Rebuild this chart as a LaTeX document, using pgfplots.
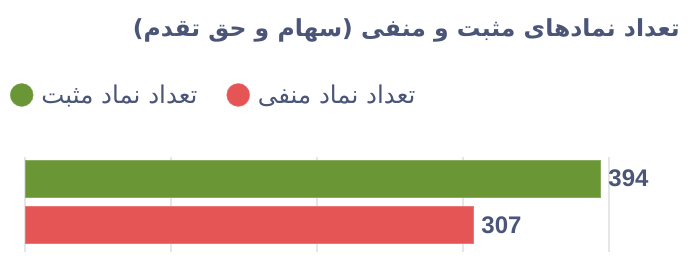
\documentclass[border=0pt]{standalone}
\usepackage{pgfplots}
\pgfplotsset{compat=1.18}
\usepackage{fontspec}
\setmainfont{Liberation Sans}
\newfontfamily\arabicfont[Script=Arabic]{DejaVu Sans}
\TeXXeTstate=1
\definecolor{posgreen}{HTML}{6A9636}
\definecolor{negred}{HTML}{E65555}
\definecolor{slate}{HTML}{4A5578}
\definecolor{gridgray}{HTML}{E6E6E6}
\begin{document}
\begin{tikzpicture}[x=1pt,y=1pt]
\useasboundingbox (0,0) rectangle (692,280);
\begin{axis}[
  at={(25pt,28pt)}, anchor=south west,
  scale only axis, width=584pt, height=95pt,
  xmin=0, xmax=400, ymin=-0.581, ymax=1.462,
  xbar, bar width=37pt, bar shift=0pt,
  xtick={0,100,200,300,400}, xticklabels={},
  ytick=\empty,
  xmajorgrids, grid style={draw=gridgray, line width=1.3pt},
  axis line style={draw=none}, tick style={draw=none},
  clip=false,
  /pgf/number format/assume math mode=true,
  nodes near coords={\pgfmathprintnumber{\pgfplotspointmeta}},
  every node near coord/.append style={font=\fontsize{24}{26}\selectfont\bfseries, text=slate, anchor=west, inner sep=0pt, xshift=8pt},
  legend columns=2,
  legend style={at={(axis description cs:-0.026,1.653)}, anchor=west, draw=none, fill=none,
    font=\arabicfont\fontsize{24.5}{27}\selectfont, text=slate, inner sep=0pt,
    /tikz/every odd column/.append style={column sep=6pt},
    /tikz/every even column/.append style={column sep=27pt}},
  legend image code/.code={\fill[#1] (0pt,0pt) circle (11.5pt);},
  legend cell align=left,
]
\addplot[fill=posgreen, draw=posgreen!80!white] coordinates {(394,1)};
\addlegendentry{\beginR تعداد نماد مثبت\endR}
\addplot[fill=negred, draw=negred!80!white] coordinates {(307,0)};
\addlegendentry{\beginR تعداد نماد منفی\endR}
\end{axis}
\node[anchor=north east, inner sep=0pt, text=slate, font=\arabicfont\bfseries\fontsize{23.5}{28}\selectfont] at (680,262) {\beginR تعداد نمادهای مثبت و منفی (سهام و حق تقدم)\endR};
\end{tikzpicture}
\end{document}
